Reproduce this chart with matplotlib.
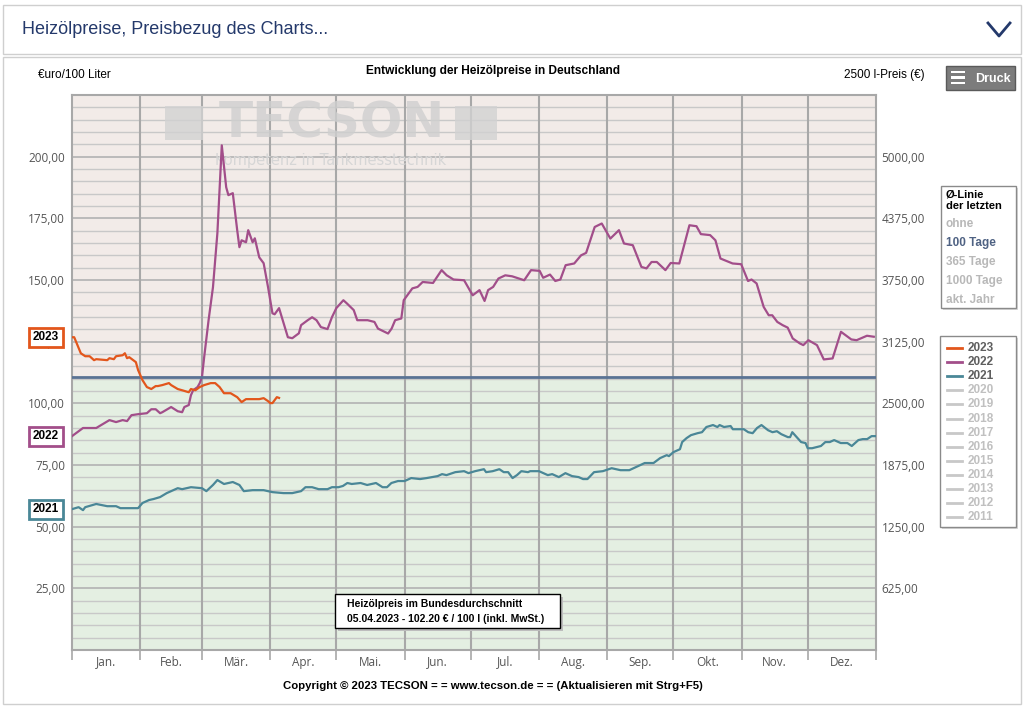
import matplotlib
matplotlib.use('Agg')
import matplotlib.pyplot as plt
import matplotlib.transforms as mtransforms
from matplotlib.patches import Rectangle
from matplotlib.lines import Line2D

# Tag im Jahr (0 = 1. Januar) und Heizölpreis in €/100 l
days_2023 = [0, 1, 4, 6, 8, 10, 11, 16, 17, 19, 20, 23, 24, 25, 26, 29, 30, 32, 34, 36,
             38, 39, 41, 44, 45, 48, 50, 53, 54, 56, 58, 60, 63, 65, 67, 69, 72, 75, 77, 79,
             82, 85, 87, 89, 90, 91, 93, 94]
price_2023 = [126.8, 126.8, 120.3, 119.1, 119.1, 117.5, 117.9, 117.5, 118.3, 117.9, 119.1, 119.5,
              120.3, 118.3, 118.7, 116.7, 113.5, 109.4, 106.6, 105.8, 107.0, 107.0, 107.4, 108.2,
              107.4, 105.8, 105.3, 104.5, 105.8, 105.3, 106.6, 107.4, 108.2, 108.2, 106.6, 104.1,
              104.1, 102.5, 100.5, 101.7, 101.7, 101.7, 102.1, 100.9, 100.1, 100.1, 102.5, 102.2]

days_2022 = [0, 5, 11, 17, 20, 23, 25, 27, 30, 34, 36, 38, 40, 41, 45, 48, 50, 51, 53, 54,
             55, 57, 58, 59, 60, 62, 64, 66, 68, 70, 71, 73, 75, 76, 77, 79, 80, 82, 83, 85,
             87, 89, 91, 92, 94, 98, 100, 103, 104, 107, 109, 111, 113, 116, 118, 120, 123.2,
             124.8, 127.9, 129.5, 131.1, 134.2, 137.3, 138.9, 143.5, 145.1, 146.7, 149.5, 150.6,
             154.5, 156.9, 159.2, 163.9, 167.8, 170.1, 173.2, 178.0, 181.9, 185.0, 187.3, 188.9,
             191.2, 193.6, 196.7, 199.8, 205.3, 208.4, 212.3, 213.9, 217.0, 219.4, 221.7, 224.1,
             228.0, 231.1, 233.4, 237.3, 240.5, 244.4, 248.3, 250.6, 254.6, 258.5, 260.8, 263.1,
             265.5, 269.4, 271.8, 275.7, 280.3, 283.5, 285.5, 289.7, 292.1, 294.4, 298.3, 299.9,
             303.8, 306.9, 308.5, 310.8, 314.0, 316.3, 317.9, 320.2, 322.6, 324.9, 327.2, 330.4,
             332.0, 334.3, 338.2, 341.3, 345.3, 349.1, 353.8, 356.2, 360.9, 364.0]
price_2022 = [86.7, 90.0, 90.0, 93.2, 92.4, 93.2, 92.8, 95.2, 95.6, 96.0, 97.6, 97.6, 96.0, 96.4,
              98.5, 96.8, 96.4, 98.5, 99.3, 103.3, 105.3, 106.6, 108.2, 110.6, 118.7, 133.7,
              147.1, 169.0, 204.6, 187.6, 184.4, 185.2, 170.2, 163.3, 166.1, 165.3, 170.2, 165.3,
              166.9, 159.2, 156.8, 147.1, 136.5, 136.1, 138.6, 126.8, 126.4, 128.4, 131.7, 133.7,
              134.9, 133.7, 130.9, 130.1, 134.9, 138.6, 141.8, 140.5, 137.8, 133.7, 133.7, 133.7,
              133.0, 130.3, 128.3, 130.3, 133.7, 134.4, 141.8, 146.6, 147.2, 149.2, 148.8, 154.0,
              151.9, 150.2, 149.9, 143.8, 145.9, 141.5, 145.9, 147.2, 150.6, 151.9, 151.5, 149.9,
              154.0, 153.7, 150.9, 152.2, 149.6, 150.2, 156.0, 156.7, 160.0, 161.0, 171.5, 172.9,
              166.8, 170.2, 164.8, 164.1, 155.3, 154.7, 157.3, 157.3, 154.0, 156.9, 156.7, 172.2,
              171.8, 168.6, 168.2, 166.1, 158.7, 157.3, 156.7, 156.4, 149.6, 150.2, 148.6, 139.1,
              135.7, 135.7, 133.0, 131.7, 130.7, 126.3, 124.3, 123.6, 125.6, 123.6, 117.8, 118.2,
              129.0, 125.9, 125.6, 127.4, 127.0]

days_2021 = [0, 3, 5, 6, 11, 16, 20, 22, 25, 30, 32, 35, 37, 40, 43, 48, 50, 54, 59, 61,
             64, 66, 69, 73, 76, 78, 82, 87, 91, 96, 100, 104, 106, 109, 112, 116, 118, 121,
             123, 125, 127, 131, 134, 138, 141, 143, 145, 148, 151, 154, 158, 161, 166, 168,
             170, 174, 178, 180, 183, 187, 188, 191, 194, 196, 198, 200, 202, 204, 207, 208,
             212, 216, 218, 221, 224, 227, 230, 232, 234, 237, 241, 245, 249, 253, 258, 260,
             264, 267, 270, 271, 273, 276, 277, 279, 281, 284, 286, 288, 291, 293, 294, 296,
             299, 300, 305, 307, 309, 311, 313, 316, 318, 320, 322, 325, 326, 327, 329, 331,
             333, 334, 336, 340, 342, 344, 346, 349, 352, 354, 357, 359, 361, 363, 365]
price_2021 = [57.1, 57.9, 56.7, 57.9, 59.2, 58.3, 58.3, 57.5, 57.5, 57.5, 59.6, 60.8, 61.2, 62.0,
              63.6, 65.6, 65.2, 66.0, 65.6, 64.4, 66.9, 68.9, 67.3, 68.1, 66.9, 64.4, 64.8, 64.8,
              64.0, 63.6, 63.6, 64.4, 66.0, 66.0, 65.2, 65.2, 66.0, 66.0, 66.5, 67.7, 67.3, 67.7,
              66.9, 67.7, 66.0, 66.0, 67.7, 68.5, 68.5, 69.7, 69.3, 69.7, 70.5, 71.3, 70.9, 72.1,
              72.5, 71.7, 72.5, 73.3, 72.1, 72.5, 73.3, 72.1, 72.1, 69.7, 70.9, 72.5, 72.1, 72.5,
              72.5, 70.9, 71.3, 70.1, 71.7, 70.5, 70.1, 69.3, 69.3, 72.1, 72.5, 73.7, 72.9, 72.9,
              75.0, 75.8, 75.8, 77.8, 79.0, 78.6, 80.2, 81.4, 84.3, 85.9, 87.1, 87.9, 88.3, 90.4,
              91.2, 90.4, 91.2, 90.4, 90.8, 89.5, 89.5, 88.3, 87.9, 90.0, 91.2, 89.1, 88.3, 88.7,
              87.5, 86.3, 86.3, 88.3, 86.3, 84.3, 83.9, 81.8, 81.8, 82.7, 84.3, 84.3, 85.1, 83.9,
              83.9, 82.7, 85.1, 85.5, 85.5, 86.7, 86.7]

avg_100_days = 110.6

month_starts = [0, 31, 59, 90, 120, 151, 181, 212, 243, 273, 304, 334, 365]
month_labels = ['Jan.', 'Feb.', 'Mär.', 'Apr.', 'Mai.', 'Jun.', 'Jul.', 'Aug.', 'Sep.', 'Okt.',
                'Nov.', 'Dez.']
left_ticks = [25, 50, 75, 100, 125, 150, 175, 200]
liters = 2500
legend_years = ['2023', '2022', '2021', '2020', '2019', '2018', '2017', '2016', '2015', '2014',
                '2013', '2012', '2011']
avg_options = ['ohne', '100 Tage', '365 Tage', '1000 Tage', 'akt. Jahr']

C2023 = '#e2561c'
C2022 = '#a24e8a'
C2021 = '#4a8797'
CAVG = '#5a7294'
W, H = 1027, 709

plt.rcParams['font.family'] = ['Liberation Sans', 'DejaVu Sans']

fig = plt.figure(figsize=(W / 100, H / 100), dpi=100)


def box(x0, y0, x1, y1, **kw):
  # Rechteck in Pixelkoordinaten (oben links = 0,0)
  r = Rectangle((x0 / W, 1 - y1 / H), (x1 - x0) / W, (y1 - y0) / H,
                transform=fig.transFigure, **kw)
  fig.add_artist(r)
  return r


def txt(x, y, s, **kw):
  return fig.text(x / W, 1 - y / H, s, **kw)


# Kopfzeile
box(3, 5, 1021, 54, fc='white', ec='#cfcfcf', lw=1)
txt(22, 29, 'Heizölpreise, Preisbezug des Charts...', fontsize=13, color='#24396b',
    va='center', family=['Liberation Sans Narrow', 'Liberation Sans', 'DejaVu Sans'])
fig.add_artist(Line2D([988 / W, 999 / W, 1010 / W], [1 - 23 / H, 1 - 36 / H, 1 - 23 / H],
                      transform=fig.transFigure, color='#24396b', lw=2))
box(3, 57, 1021, 704, fc='white', ec='#cfcfcf', lw=1, zorder=-1)

# Titelzeile
narrow = ['Liberation Sans Narrow', 'Liberation Sans', 'DejaVu Sans']
txt(38, 75, '€uro/100 Liter', fontsize=8.5, va='center', family=narrow)
txt(493, 71, 'Entwicklung der Heizölpreise in Deutschland', fontsize=8.6, va='center',
    ha='center', fontweight='bold', family=narrow)
txt(925, 75, f'{liters} l-Preis (€)', fontsize=8.5, va='center', ha='right', family=narrow)

# Druck-Knopf
box(946, 66, 1015, 90, fc='#7c7c7c', ec='#5a5a5a', lw=1)
for yy in (72, 77.5, 83):
  box(951, yy - 1.3, 965, yy + 1.3, fc='white', ec='none')
txt(993, 78.5, 'Druck', fontsize=9, color='white', fontweight='bold', ha='center', va='center',
    family=narrow)

# Diagramm
ax = fig.add_axes([72 / W, 1 - 650 / H, 804 / W, 555 / H])
ax.set_xlim(0, 365)
ax.set_ylim(0, 225)
ax.axhspan(avg_100_days, 225, color='#f2ebe8', zorder=0)
ax.axhspan(0, avg_100_days, color='#e4efe2', zorder=0)
grid_y = [v for v in range(5, 225, 5)]
ax.hlines([v for v in grid_y if v % 25], 0, 365, colors='#c8c8c8', lw=1, zorder=1)
ax.hlines([v for v in grid_y if v % 25 == 0], 0, 365, colors='#b2b2b2', lw=1.2, zorder=1)
ax.vlines(month_starts[1:-1], 0, 225, colors='#a8a8a8', lw=1.5, zorder=1)

# Wasserzeichen
wm = dict(transform=fig.transFigure, color='#cfcfcf', alpha=0.8, zorder=2)
box(165, 106, 203, 140, fc='#d2d2d2', ec='none', alpha=0.8, zorder=2)
box(455, 106, 497, 140, fc='#d2d2d2', ec='none', alpha=0.8, zorder=2)
ax.text(332 / W, 1 - 123 / H, 'TECSON', fontsize=36, fontweight='bold', ha='center',
        va='center', family='DejaVu Sans', **wm)
ax.text(331 / W, 1 - 160 / H, 'Kompetenz in Tankmesstechnik', fontsize=10.5, ha='center',
        va='center', family='DejaVu Sans', transform=fig.transFigure, color='#d6d6d6',
        zorder=2)

ax.plot(days_2021, price_2021, color=C2021, lw=1.6, zorder=4)
ax.plot(days_2022, price_2022, color=C2022, lw=1.6, zorder=4)
ax.axhline(avg_100_days, color=CAVG, lw=2, zorder=4)
ax.plot(days_2023, price_2023, color=C2023, lw=1.6, zorder=5)

for s in ax.spines.values():
  s.set_color('#a8a8a8')
  s.set_linewidth(1.5)

ax.set_yticks(left_ticks)
ax.set_yticklabels([f'{v:.2f}'.replace('.', ',') for v in left_ticks])
ax.tick_params(axis='y', length=0, pad=5, labelsize=8.5, labelcolor='#555555')
ax.set_xticks(month_starts)
ax.set_xticklabels([])
ax.tick_params(axis='x', which='major', length=7, color='#a8a8a8', width=1.2)
ax.set_xticks([(a + b) / 2 for a, b in zip(month_starts[:-1], month_starts[1:])], minor=True)
ax.set_xticklabels(month_labels, minor=True)
ax.tick_params(axis='x', which='minor', length=0, pad=4, labelsize=8.5, labelcolor='#555555')
for lab in ax.get_xticklabels(minor=True) + ax.get_yticklabels():
  lab.set_family(['Open Sans', 'DejaVu Sans'])

ax2 = ax.twinx()
ax2.set_ylim(0, 225 * liters / 100)
right_ticks = [v * liters / 100 for v in left_ticks]
ax2.set_yticks(right_ticks)
ax2.set_yticklabels([f'{v:.2f}'.replace('.', ',') for v in right_ticks],
                    family=['Open Sans', 'DejaVu Sans'])
ax2.tick_params(axis='y', length=0, pad=4, labelsize=8.5, labelcolor='#555555')
for s in ax2.spines.values():
  s.set_visible(False)

# Jahres-Etiketten am Startwert
lab_tr = mtransforms.blended_transform_factory(fig.transFigure, ax.transData)
for year, vals, col in (('2023', price_2023, C2023), ('2022', price_2022, C2022),
                        ('2021', price_2021, C2021)):
  ax.text(46 / W, vals[0], year, transform=lab_tr, ha='center', va='center', fontsize=8.5,
          fontweight='bold', clip_on=False, zorder=10,
          bbox=dict(boxstyle='square,pad=0.3', fc='white', ec=col, lw=2))

# Legende Durchschnittslinie
box(943, 188, 1018, 310, fc='#d8d8d8', ec='none')
box(941, 186, 1016, 308, fc='white', ec='#8a8a8a', lw=1)
txt(946, 195, 'Ø-Linie', fontsize=8, fontweight='bold', va='center')
txt(946, 206, 'der letzten', fontsize=8, fontweight='bold', va='center')
for i, opt in enumerate(avg_options):
  col = '#4f6283' if opt == '100 Tage' else '#b8b8b8'
  txt(946, 224 + i * 19, opt, fontsize=8.5, fontweight='bold', va='center', color=col)

# Legende Jahre
box(942, 338, 1018, 529, fc='#d8d8d8', ec='none')
box(940, 336, 1016, 527, fc='white', ec='#8a8a8a', lw=1)
year_cols = {'2023': C2023, '2022': C2022, '2021': C2021}
for i, year in enumerate(legend_years):
  yy = 348 + i * 14.1
  col = year_cols.get(year, '#c8c8c8')
  fig.add_artist(Line2D([947 / W, 962 / W], [1 - yy / H] * 2, transform=fig.transFigure,
                        color=col, lw=2))
  txt(968, yy, year, fontsize=8.5, fontweight='bold', va='center',
      color='#5e5e5e' if year in year_cols else '#c0c0c0')

# Infobox
box(338, 597, 563, 631, fc='#bdbdbd', ec='none', zorder=11)
box(335, 594, 560, 628, fc='white', ec='black', lw=1, zorder=12)
txt(347, 604, 'Heizölpreis im Bundesdurchschnitt', fontsize=7.5, fontweight='bold',
    va='center', zorder=13)
txt(347, 619, '05.04.2023 - 102.20 € / 100 l (inkl. MwSt.)', fontsize=7.5, fontweight='bold',
    va='center', zorder=13)

txt(493, 686, 'Copyright © 2023 TECSON = = www.tecson.de = = (Aktualisieren mit Strg+F5)',
    fontsize=8.2, fontweight='bold', ha='center', va='center')

plt.savefig('out.png', dpi=100)
